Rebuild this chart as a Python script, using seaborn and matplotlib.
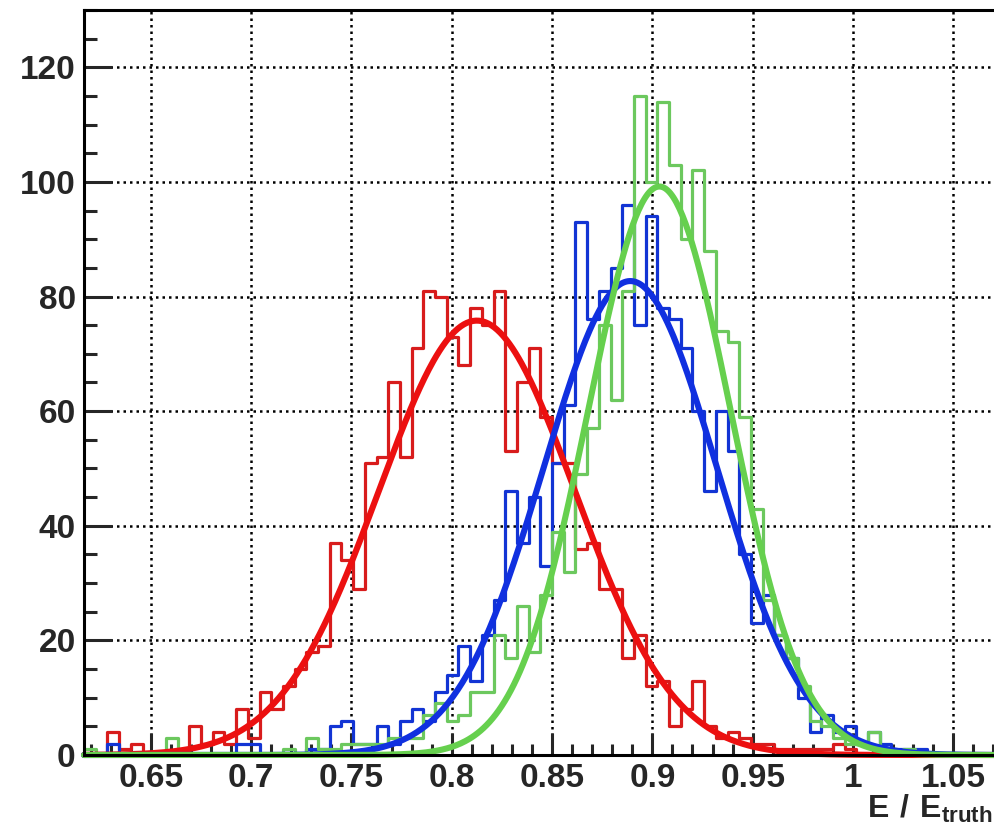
import numpy as np
import pandas as pd
import matplotlib
matplotlib.use("Agg")
import matplotlib.pyplot as plt
import seaborn as sns

# binning of the three histograms (120 bins over 0.5 - 1.2, showing bins 0.617 - 1.07)
bin_width = 0.7 / 120
first_edge = 0.85 - 40 * bin_width
n_bins = 77

# counts per bin
red_counts = [0, 0, 4, 1, 2, 0, 0, 0, 1, 5, 2, 4, 2, 8, 3, 11, 8, 12, 15, 18,
              19, 37, 34, 29, 51, 52, 65, 52, 71, 81, 80, 73, 68, 78, 75, 81, 53, 65, 71, 59,
              51, 51, 36, 37, 29, 29, 17, 21, 12, 13, 5, 8, 13, 5, 3, 4, 3, 2, 2, 1,
              1, 1, 1, 1, 2, 1, 0, 0, 0, 0, 0, 0, 0, 0, 0, 0, 0]
blue_counts = [0, 0, 2, 0, 0, 0, 0, 0, 0, 0, 0, 0, 0, 2, 2, 0, 0, 0, 0, 1,
               1, 5, 6, 2, 2, 5, 2, 6, 8, 6, 11, 14, 19, 13, 21, 27, 46, 37, 45, 33,
               51, 61, 93, 76, 81, 85, 96, 75, 94, 78, 76, 71, 60, 46, 60, 53, 35, 23, 28, 21,
               17, 10, 4, 7, 4, 5, 2, 4, 2, 1, 1, 1, 0, 0, 0, 0, 0]
green_counts = [1, 0, 0, 0, 0, 0, 0, 3, 0, 0, 0, 0, 0, 0, 0, 0, 0, 1, 0, 3,
                1, 1, 2, 2, 2, 2, 3, 3, 3, 7, 9, 6, 7, 11, 11, 21, 17, 26, 18, 28,
                39, 32, 49, 57, 75, 62, 81, 115, 100, 114, 103, 90, 102, 88, 74, 72, 59, 43, 27, 21,
                17, 12, 6, 5, 3, 2, 2, 4, 1, 0, 1, 0, 0, 0, 0, 0, 0]

# gaussian fit parameters (amplitude, mean, sigma)
red_fit = (75.8, 0.8125, 0.049)
blue_fit = (82.7, 0.889, 0.0432)
green_fit = (99.2, 0.9035, 0.0355)

x_ticks = [0.65, 0.7, 0.75, 0.8, 0.85, 0.9, 0.95, 1.0, 1.05]
x_tick_labels = ["0.65", "0.7", "0.75", "0.8", "0.85", "0.9", "0.95", "1", "1.05"]
y_ticks = [0, 20, 40, 60, 80, 100, 120]
y_tick_labels = ["0", "20", "40", "60", "80", "100", "120"]

sns.set_style("white")
plt.rcParams['font.family'] = ['Liberation Sans', 'DejaVu Sans']
plt.rcParams['font.weight'] = 'bold'
plt.rcParams['mathtext.fontset'] = 'custom'
plt.rcParams['mathtext.bf'] = 'Liberation Sans:bold'
plt.rcParams['mathtext.rm'] = 'Liberation Sans:bold'

fig = plt.figure(figsize=(9.94, 8.30), dpi=100)
ax = fig.add_axes([84 / 994, 75 / 830, 910 / 994, 745 / 830])

edges = first_edge + bin_width * np.arange(n_bins + 1)
centers = edges[:-1] + bin_width / 2
x_lo = first_edge
x_hi = first_edge + 910 / 2006

hists = [(red_counts, "#d81c1c"), (blue_counts, "#1234d4"), (green_counts, "#6cc85e")]
for counts, col in hists:
    df = pd.DataFrame({"x": centers, "n": counts})
    sns.histplot(data=df, x="x", weights="n", bins=list(edges), element="step", fill=False,
                 color=col, linewidth=2.3, ax=ax)

xs = np.linspace(x_lo, x_hi, 600)
fits = [(red_fit, "#ec1010"), (blue_fit, "#1030e0"), (green_fit, "#66d04e")]
for (amp, mu, sig), col in fits:
    ys = amp * np.exp(-0.5 * ((xs - mu) / sig) ** 2)
    sns.lineplot(x=xs, y=ys, color=col, linewidth=4.4, ax=ax, sort=False, errorbar=None)
    ax.lines[-1].set_clip_on(False)

ax.set_xlim(x_lo, x_hi)
ax.set_ylim(0, 130)
ax.set_xticks(x_ticks)
ax.set_xticklabels(x_tick_labels)
ax.set_yticks(y_ticks)
ax.set_yticklabels(y_tick_labels)
ax.set_xticks(np.arange(0.62, 1.071, 0.01), minor=True)
ax.set_yticks(np.arange(0, 131, 5), minor=True)
ax.set_xlabel("")
ax.set_ylabel("")

ax.grid(True, which="major", color="black", linestyle=(0, (1, 1.6)), linewidth=1.8)
ax.set_axisbelow(True)

ax.tick_params(axis="y", which="major", direction="in", length=20, width=2.2,
               labelsize=24, pad=6, left=True, right=False)
ax.tick_params(axis="y", which="minor", direction="in", length=9.5, width=2.2,
               left=True, right=False)
ax.tick_params(axis="x", which="major", direction="in", length=16, width=2.2,
               labelsize=24, pad=6, bottom=True, top=False)
ax.tick_params(axis="x", which="minor", direction="in", length=8, width=2.2,
               bottom=True, top=False)
for lab in ax.get_xticklabels() + ax.get_yticklabels():
    lab.set_fontweight("bold")

for s in ax.spines.values():
    s.set_color("black")
    s.set_linewidth(2.2)
ax.spines["right"].set_visible(False)

fig.text(0.999, 1 - 818 / 830, r"$\mathbf{E\ /\ E}_{\mathbf{truth}}$",
         ha="right", va="baseline", fontsize=23)

fig.savefig("out.png", dpi=100, facecolor="white")
